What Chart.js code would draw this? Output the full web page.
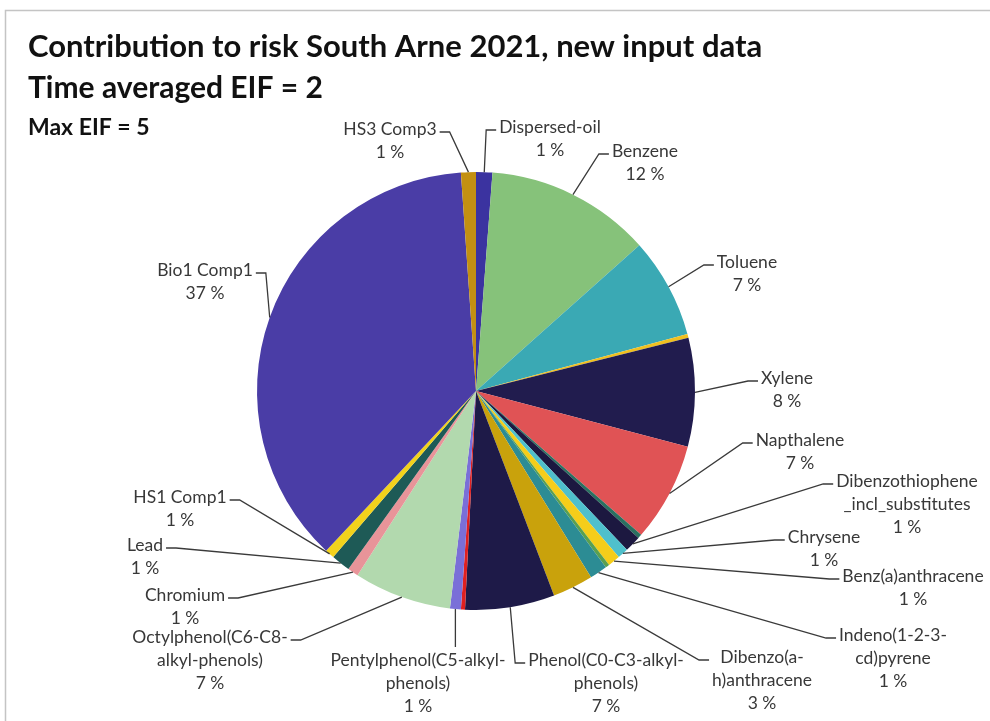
<!DOCTYPE html>
<html>
<head>
<meta charset="utf-8">
<script src="https://cdn.jsdelivr.net/npm/chart.js@4.4.0/dist/chart.umd.min.js"></script>
<style>
html, body { margin: 0; padding: 0; background: #fff; }
#wrap { position: relative; width: 990px; height: 721px; }
</style>
</head>
<body>
<div id="wrap"><canvas id="risk-chart"></canvas></div>
<script>
// slices clockwise from 12 o'clock; empty name = slice without a data label
var categories = ['Dispersed-oil', 'Benzene', 'Toluene', '', 'Xylene', 'Napthalene', '',
    'Dibenzothiophene_incl_substitutes', 'Chrysene', 'Benz(a)anthracene', '', 'Indeno(1-2-3-cd)pyrene',
    'Dibenzo(a-h)anthracene', 'Phenol(C0-C3-alkyl-phenols)', '', 'Pentylphenol(C5-alkyl-phenols)',
    'Octylphenol(C6-C8-alkyl-phenols)', 'Chromium', 'Lead', 'HS1 Comp1', 'Bio1 Comp1', 'HS3 Comp3'];
var values = [1.2, 12.2, 7.4, 0.3, 8.0, 7.3, 0.3, 1.2, 0.8, 0.9, 0.3, 1.3, 3.0, 6.6, 0.3, 0.8, 7.2, 0.8, 1.4, 0.7, 36.9, 1.1];
var sliceColors = ['#3b33a0', '#86c27a', '#3aa9b4', '#f0c020', '#211c4e', '#e05355', '#2a7060',
    '#1c1840', '#4fc0cc', '#f5cd1a', '#5aa050', '#2c8c94', '#c9a20c', '#1e1a48', '#e02020', '#7a6fd8',
    '#b2d9ae', '#e89499', '#1e5a56', '#f2d21c', '#4a3da6', '#c39012'];
var titleLines = ['Contribution to risk South Arne 2021, new input data', 'Time averaged EIF = 2', 'Max EIF = 5'];

// where each data label sits (text centre, first line centre), which side the leader enters, wrap width
var labelLayout = [
    {x: 550, y: 127, side: 'left', wrap: 220},
    {x: 645, y: 151, side: 'left', wrap: 220},
    {x: 747, y: 262, side: 'left', wrap: 220},
    null,
    {x: 787, y: 378, side: 'left', wrap: 220},
    {x: 800, y: 440, side: 'left', wrap: 220},
    null,
    {x: 907, y: 481, side: 'left', wrap: 160},
    {x: 824, y: 537, side: 'left', wrap: 220},
    {x: 913, y: 576, side: 'left', wrap: 220},
    null,
    {x: 893, y: 635, side: 'left', wrap: 125},
    {x: 762, y: 657, side: 'left', wrap: 105},
    {x: 606, y: 660, side: 'left', wrap: 175},
    null,
    {x: 418, y: 660, side: 'top', wrap: 195},
    {x: 210, y: 637, side: 'right', wrap: 170},
    {x: 185, y: 595, side: 'right', wrap: 220},
    {x: 145, y: 545, side: 'right', wrap: 220},
    {x: 180, y: 497, side: 'right', wrap: 220},
    {x: 205, y: 270, side: 'right', wrap: 220},
    {x: 390, y: 129, side: 'right', wrap: 220}
];

var labelFont = '17.5px Lato';
var lineH = 23;

function wrapLabel(ctx, name, maxW) {
    var tokens = name.split(/(?<=-)|(?=_)/);
    var lines = [];
    var cur = '';
    tokens.forEach(function (t) {
        if (cur && ctx.measureText(cur + t).width > maxW) {
            lines.push(cur);
            cur = t;
        } else {
            cur += t;
        }
    });
    if (cur) lines.push(cur);
    return lines;
}

var frameAndLabels = {
    id: 'frameAndLabels',
    beforeDraw: function (chart) {
        var ctx = chart.ctx;
        ctx.save();
        ctx.strokeStyle = '#c4c4c4';
        ctx.lineWidth = 1.5;
        ctx.beginPath();
        ctx.moveTo(5.5, 721);
        ctx.lineTo(5.5, 10.5);
        ctx.lineTo(990, 10.5);
        ctx.stroke();
        ctx.restore();
    },
    afterDraw: function (chart) {
        var ctx = chart.ctx;
        var total = values.reduce(function (a, b) { return a + b; }, 0);
        ctx.save();
        // titles
        ctx.fillStyle = '#111';
        ctx.textBaseline = 'middle';
        ctx.textAlign = 'left';
        ctx.font = 'bold 31px Lato';
        ctx.fillText(titleLines[0], 28, 47);
        ctx.font = 'bold 30px Lato';
        ctx.fillText(titleLines[1], 28, 88);
        ctx.font = 'bold 23px Lato';
        ctx.fillText(titleLines[2], 28, 128);

        // data labels with leader lines
        var meta = chart.getDatasetMeta(0);
        ctx.font = labelFont;
        meta.data.forEach(function (arc, i) {
            var lay = labelLayout[i];
            if (!lay || !categories[i]) return;
            var mid = (arc.startAngle + arc.endAngle) / 2;
            var px = arc.x + Math.cos(mid) * arc.outerRadius;
            var py = arc.y + Math.sin(mid) * arc.outerRadius;
            var lines = wrapLabel(ctx, categories[i], lay.wrap);
            lines.push(Math.round(values[i] / total * 100) + ' %');
            var w = 0;
            lines.forEach(function (l) { w = Math.max(w, ctx.measureText(l).width); });

            ctx.strokeStyle = '#3a3a3a';
            ctx.lineWidth = 1.3;
            ctx.beginPath();
            ctx.moveTo(px, py);
            if (lay.side === 'left') {
                var ax = lay.x - w / 2 - 3;
                ctx.lineTo(ax - 10, lay.y + 3);
                ctx.lineTo(ax, lay.y + 3);
            } else if (lay.side === 'right') {
                var bx = lay.x + w / 2 + 3;
                ctx.lineTo(bx + 10, lay.y + 3);
                ctx.lineTo(bx, lay.y + 3);
            } else {
                ctx.lineTo(px, lay.y - 13);
            }
            ctx.stroke();

            ctx.fillStyle = '#383838';
            ctx.textAlign = 'center';
            lines.forEach(function (l, k) {
                ctx.fillText(l, lay.x, lay.y + k * lineH);
            });
        });
        ctx.restore();
    }
};

var pieCanvas = document.getElementById('risk-chart').getContext('2d');
var pieChart = new Chart(pieCanvas, {
    type: 'pie',
    data: {
        labels: categories,
        datasets: [{
            data: values,
            backgroundColor: sliceColors,
            borderWidth: 0
        }]
    },
    options: {
        responsive: true,
        maintainAspectRatio: false,
        animation: false,
        layout: { padding: { top: 172, bottom: 111, left: 257, right: 295 } },
        plugins: {
            legend: { display: false },
            tooltip: { enabled: false }
        }
    },
    plugins: [frameAndLabels]
});
</script>
</body>
</html>
